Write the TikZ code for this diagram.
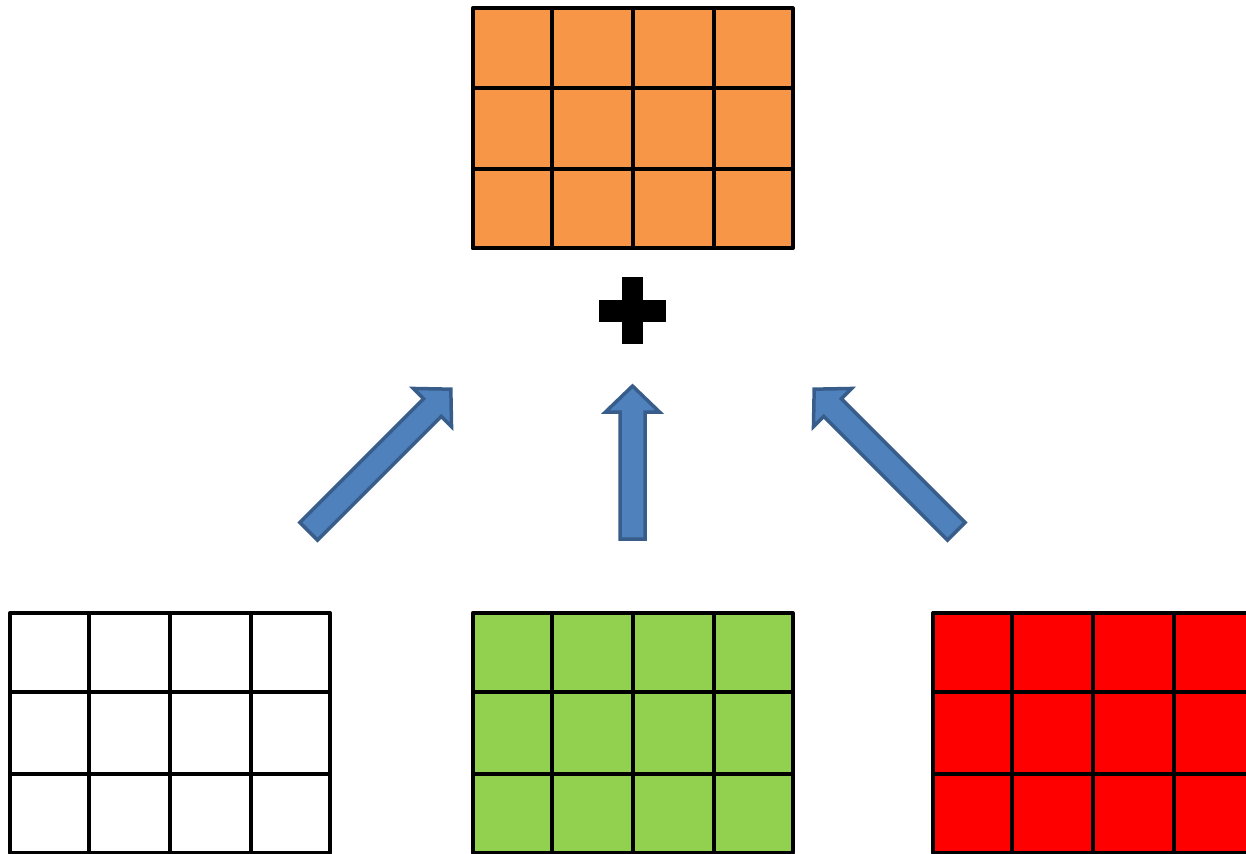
\documentclass[tikz,border=0pt]{standalone}
\usetikzlibrary{calc}

\definecolor{sumorange}{HTML}{F79646}
\definecolor{ctxgreen}{HTML}{92D050}
\definecolor{resred}{HTML}{FF0000}
\definecolor{arrowfill}{HTML}{4F81BD}
\definecolor{arrowedge}{HTML}{385D8A}

\tikzset{
  gridbox/.style={draw, rectangle, line width=0.08cm, line join=round, inner sep=0pt,
    minimum width=6.4cm, minimum height=4.8cm},
  gridline/.style={line width=0.08cm},
  arrowline/.style={draw=arrowedge, fill=arrowfill, line width=0.07cm},
  blockarrow/.pic={
    \path[arrowline] (-12.5,0) -- (-12.5,-#1+26) -- (-27,-#1+26) -- (0,-#1)
      -- (27,-#1+26) -- (12.5,-#1+26) -- (12.5,0) -- cycle;
  }
}

\begin{document}
\begin{tikzpicture}[x=0.02cm, y=-0.02cm]
\path[use as bounding box, clip] (0,0) rectangle (1246,854);

\node[gridbox, fill=sumorange] (total) at (632.7,128.3) {};
\node[gridbox, fill=ctxgreen] (greengrid) at (632.7,733) {};
\node[gridbox, fill=white] (whitegrid) at (170.2,733) {};
\node[gridbox, fill=resred] (redgrid) at (1093,733) {};

% cell lines
\foreach \g in {total, whitegrid, greengrid, redgrid} {
  \foreach \i in {1,2,3}
    \draw[gridline] ($(\g.north west)!\i/4!(\g.north east)$) -- ($(\g.south west)!\i/4!(\g.south east)$);
  \foreach \j in {1,2}
    \draw[gridline] ($(\g.north west)!\j/3!(\g.south west)$) -- ($(\g.north east)!\j/3!(\g.south east)$);
}

% plus sign
\fill (622,277) rectangle (643,344);
\fill (599,300) rectangle (666,322);

% arrows
\pic[rotate=-45] (arrleft) at (308.7,531.3) {blockarrow=201};
\pic (arrmid) at (632.5,539) {blockarrow=153};
\pic[rotate=45] (arrright) at (956.3,531.3) {blockarrow=201};

\end{tikzpicture}
\end{document}
